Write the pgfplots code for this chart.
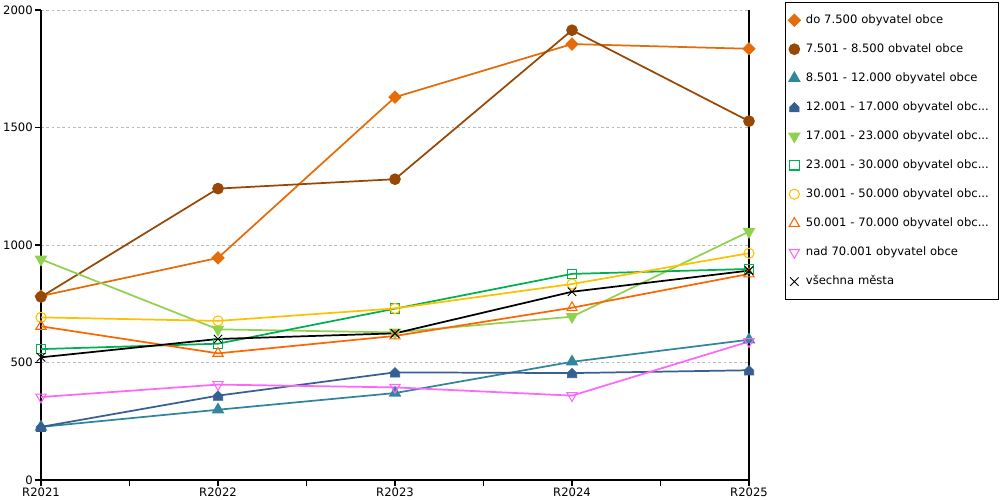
\documentclass[border=0pt]{standalone}
\usepackage{pgfplots}
\pgfplotsset{compat=1.18}
\usepackage{fontspec}
\setmainfont{DejaVu Sans}
\usetikzlibrary{plotmarks}
\definecolor{cA}{HTML}{E46C0A}
\definecolor{cB}{HTML}{974806}
\definecolor{cC}{HTML}{31859C}
\definecolor{cD}{HTML}{376092}
\definecolor{cE}{HTML}{92D050}
\definecolor{cF}{HTML}{00B050}
\definecolor{cG}{HTML}{FFC000}
\definecolor{cH}{HTML}{FF6600}
\definecolor{cI}{HTML}{FF66FF}
\pgfdeclareplotmark{house*}{%
  \pgfpathmoveto{\pgfpoint{-\pgfplotmarksize}{-\pgfplotmarksize}}%
  \pgfpathlineto{\pgfpoint{\pgfplotmarksize}{-\pgfplotmarksize}}%
  \pgfpathlineto{\pgfpoint{\pgfplotmarksize}{0pt}}%
  \pgfpathlineto{\pgfpoint{0pt}{\pgfplotmarksize}}%
  \pgfpathlineto{\pgfpoint{-\pgfplotmarksize}{0pt}}%
  \pgfpathclose
  \pgfusepathqfillstroke}
\newcommand{\fnt}{\fontsize{8.7pt}{10pt}\selectfont}
\begin{document}
\begin{tikzpicture}
\begin{axis}[
  scale only axis,
  width=531pt, height=352.5pt,
  xmin=0, xmax=4, ymin=0, ymax=2000,
  axis lines=left,
  axis line style={-, black, line width=0.8pt},
  xtick={0,1,2,3,4},
  xticklabels={R2021,R2022,R2023,R2024,R2025},
  minor xtick={0.5,1.5,2.5,3.5},
  ytick={0,500,1000,1500,2000},
  tick align=outside,
  major tick length=4.5pt, minor tick length=4.5pt,
  tick style={black, line width=0.8pt},
  ymajorgrids,
  major grid style={gray!55, dash pattern=on 2pt off 2pt, line width=0.6pt},
  /pgf/number format/1000 sep={},
  /pgf/number format/assume math mode=true,
  tick label style={font=\fnt},
  xticklabel style={inner sep=1.5pt},
  yticklabel style={inner sep=1.5pt},
  clip=false,
  every axis plot/.append style={line width=1.3pt},
  legend cell align=left,
  legend image code/.code={\draw[#1, only marks] plot coordinates {(0pt,0pt)}; \path (-4.5pt,0pt) (4.5pt,0pt);},
  legend style={at={(rel axis cs:1.0508,1.017)}, anchor=north west,
    draw=black, line width=0.8pt, font=\fnt,
    inner xsep=1.5pt, inner ysep=9pt,
    row sep=13.25pt, column sep=3.5pt,
    nodes={inner sep=0pt, text height=6.5pt, text depth=2pt},
    text width=143pt},
]
\addplot[color=cA, mark=square*, mark size=2.9pt, mark options={solid, fill=cA, rotate=45}] coordinates {(0,783) (1,945) (2,1629) (3,1855) (4,1835)};
\addlegendentry{do 7.500 obyvatel obce}
\addplot[color=cB, mark=*, mark size=3.7pt, mark options={solid, fill=cB}] coordinates {(0,779) (1,1240) (2,1280) (3,1914) (4,1527)};
\addlegendentry{7.501 - 8.500 obvatel obce}
\addplot[color=cC, mark=triangle*, mark size=4.2pt, mark options={solid, fill=cC}] coordinates {(0,226) (1,299) (2,370) (3,503) (4,597)};
\addlegendentry{8.501 - 12.000 obyvatel obce}
\addplot[color=cD, mark=house*, mark size=3.5pt, mark options={solid, fill=cD, line width=0.5pt}] coordinates {(0,226) (1,359) (2,458) (3,455) (4,467)};
\addlegendentry{12.001 - 17.000 obyvatel obc...}
\addplot[color=cE, mark=triangle*, mark size=4.2pt, mark options={solid, fill=cE, rotate=180}] coordinates {(0,939) (1,641) (2,628) (3,695) (4,1057)};
\addlegendentry{17.001 - 23.000 obyvatel obc...}
\addplot[color=cF, mark=square, mark size=3.6pt, mark options={solid, line width=0.8pt}] coordinates {(0,557) (1,580) (2,729) (3,877) (4,898)};
\addlegendentry{23.001 - 30.000 obyvatel obc...}
\addplot[color=cG, mark=o, mark size=3.8pt, mark options={solid, line width=0.8pt}] coordinates {(0,692) (1,677) (2,730) (3,834) (4,965)};
\addlegendentry{30.001 - 50.000 obyvatel obc...}
\addplot[color=cH, mark=triangle, mark size=4.4pt, mark options={solid, line width=0.8pt}] coordinates {(0,654) (1,539) (2,613) (3,733) (4,877)};
\addlegendentry{50.001 - 70.000 obyvatel obc...}
\addplot[color=cI, mark=triangle, mark size=4.4pt, mark options={solid, line width=0.8pt, rotate=180}] coordinates {(0,353) (1,406) (2,394) (3,359) (4,589)};
\addlegendentry{nad 70.001 obyvatel obce}
\addplot[color=black, mark=x, mark size=4.5pt, mark options={solid, line width=0.7pt}] coordinates {(0,522) (1,600) (2,624) (3,801) (4,891)};
\addlegendentry{všechna města}
\draw[black, line width=0.8pt] (rel axis cs:1,0) -- (rel axis cs:1,1);
\coordinate (bl) at (rel axis cs:-0.05791,-0.04255);
\coordinate (tr) at (rel axis cs:1.35452,1.02128);
\end{axis}
\pgfresetboundingbox
\path (bl) rectangle (tr);
\end{tikzpicture}
\end{document}
